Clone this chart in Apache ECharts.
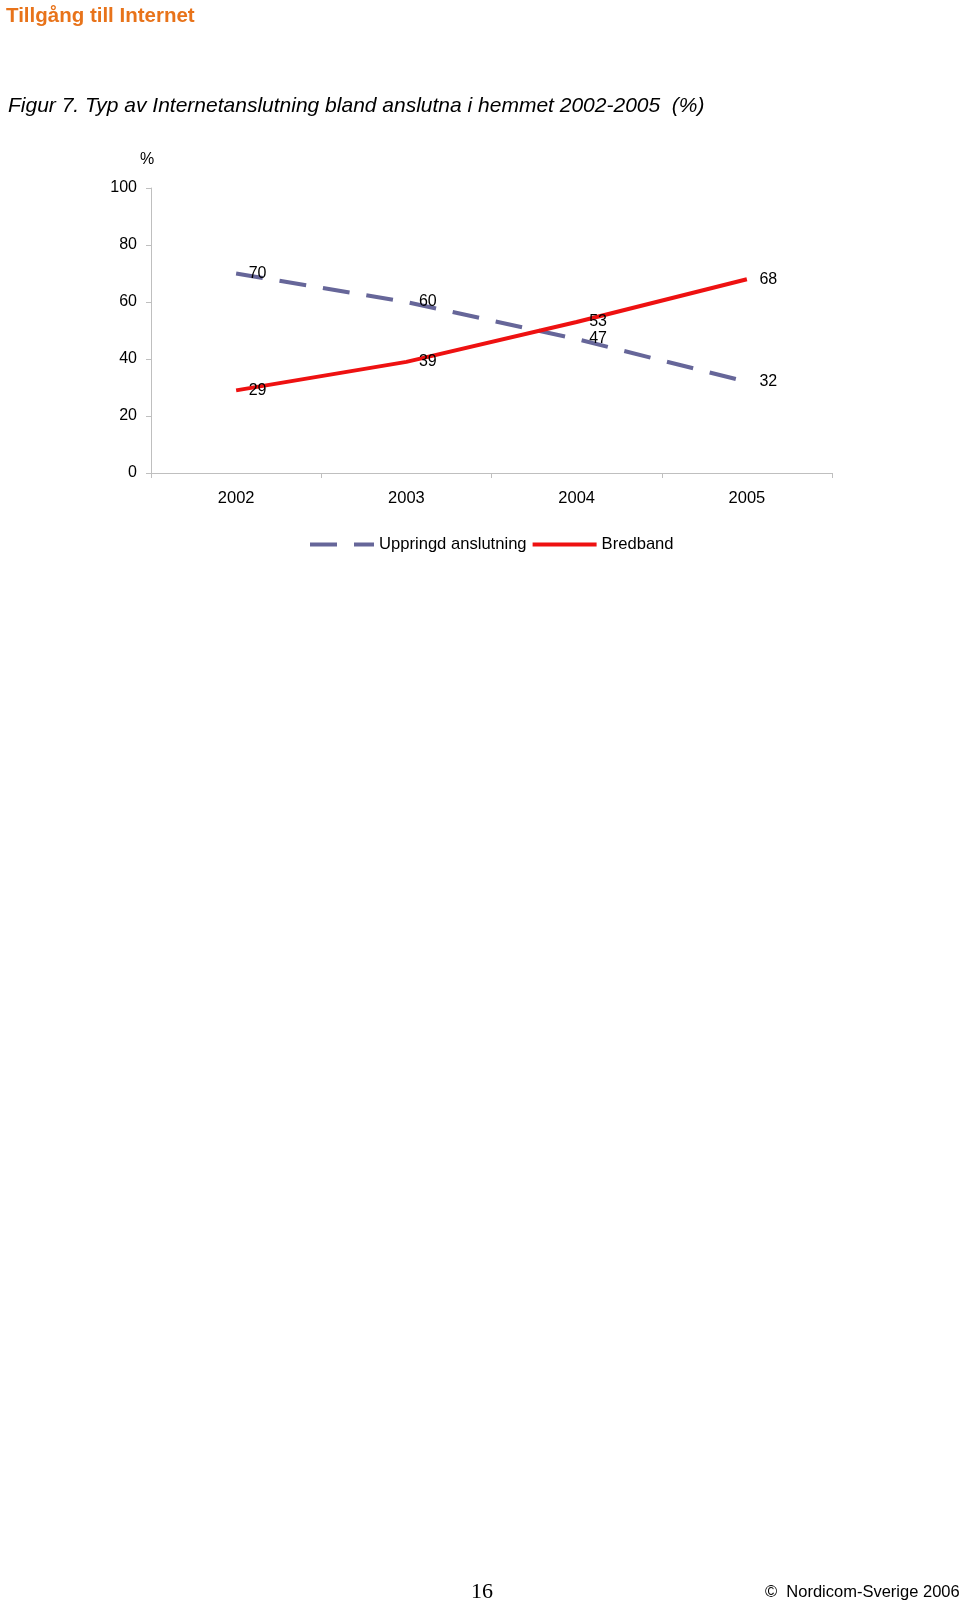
<!DOCTYPE html>
<html>
<head>
<meta charset="utf-8">
<script src="https://cdn.jsdelivr.net/npm/echarts@6/dist/echarts.min.js"></script>
<style>
html,body{margin:0;padding:0;background:#fff;}
#c{width:960px;height:1604px;}
</style>
</head>
<body>
<div id="c"></div>
<script>
const categories = ['2002', '2003', '2004', '2005'];
const uppringd = [70, 60, 47, 32];
const bredband = [29, 39, 53, 68];
const yTicks = [0, 20, 40, 60, 80, 100];
const seriesNames = ['Uppringd anslutning', 'Bredband'];

const FONT = '"Liberation Sans", Arial, sans-serif';
const chart = echarts.init(document.getElementById('c'), null, {renderer: 'canvas'});

const labelStyle = {
  show: true, position: 'right', distance: 12,
  color: '#000', fontSize: 16, fontFamily: FONT
};

chart.setOption({
  animation: false,
  backgroundColor: '#fff',
  graphic: [
    {type: 'text', left: 6, top: 6, style: {text: 'Tillgång till Internet', fill: '#E8731A', font: 'bold 20.5px ' + FONT}},
    {type: 'text', left: 8, top: 96, style: {text: 'Figur 7. Typ av Internetanslutning bland anslutna i hemmet 2002-2005  (%)', fill: '#000', font: 'italic 21px ' + FONT}},
    {type: 'text', left: 140, top: 152, style: {text: '%', fill: '#000', font: '16px ' + FONT}},
    {type: 'text', left: 471, top: 1581, style: {text: '16', fill: '#000', font: '22px "Liberation Serif", "Times New Roman", serif'}},
    {type: 'text', left: 765, top: 1584, style: {text: '©  Nordicom-Sverige 2006', fill: '#000', font: '16.5px ' + FONT}}
  ],
  grid: {left: 151, top: 188, width: 681, height: 285, containLabel: false},
  legend: {
    left: 303, top: 531,
    itemWidth: 64, itemHeight: 14, itemGap: 4,
    textStyle: {color: '#000', fontSize: 16.6, fontFamily: FONT},
    itemStyle: {opacity: 0},
    lineStyle: {width: 4},
    data: seriesNames
  },
  xAxis: {
    type: 'category', data: categories, boundaryGap: true,
    axisLine: {lineStyle: {color: '#BFBFBF', width: 1}},
    axisTick: {show: true, length: 5, lineStyle: {color: '#BFBFBF'}},
    axisLabel: {color: '#000', fontSize: 16.5, fontFamily: FONT, margin: 17}
  },
  yAxis: {
    type: 'value', min: yTicks[0], max: yTicks[yTicks.length - 1], interval: 20,
    axisLine: {show: true, lineStyle: {color: '#BFBFBF', width: 1}},
    axisTick: {show: true, length: 5, lineStyle: {color: '#BFBFBF'}},
    splitLine: {show: false},
    axisLabel: {color: '#000', fontSize: 16, fontFamily: FONT, margin: 14}
  },
  series: [
    {
      name: seriesNames[0], type: 'line', data: uppringd,
      symbol: 'circle', symbolSize: 1,
      itemStyle: {color: 'rgba(0,0,0,0)'},
      lineStyle: {color: '#666699', width: 4, type: [27, 17]},
      label: labelStyle,
      z: 2
    },
    {
      name: seriesNames[1], type: 'line', data: bredband,
      symbol: 'circle', symbolSize: 1,
      itemStyle: {color: 'rgba(0,0,0,0)'},
      lineStyle: {color: '#EE1111', width: 4},
      label: labelStyle,
      z: 3
    }
  ]
});
</script>
</body>
</html>
